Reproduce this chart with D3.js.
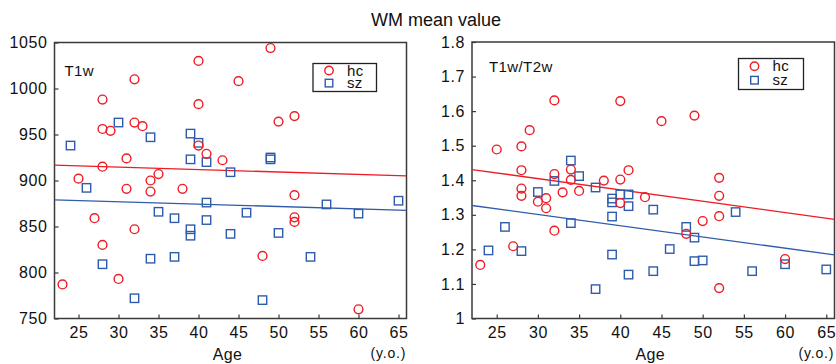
<!DOCTYPE html>
<html>
<head>
<meta charset="utf-8">
<script src="https://cdn.jsdelivr.net/npm/d3@7"></script>
<style>
  html, body { margin: 0; padding: 0; background: #fff; }
  svg { display: block; font-family: 'Liberation Sans', Arial, sans-serif; }
</style>
</head>
<body>
<svg id="chart" width="836" height="364"></svg>
<script>
// ages of subjects (same subjects in both panels)
const hcAges = [23, 25, 27, 28, 28, 28, 28, 29, 30, 31, 31, 32, 32, 32, 33, 34, 34, 35, 38, 40, 40, 40, 41, 43, 45, 48, 49, 50, 52, 52, 52, 52, 60];
const szAges = [24, 26, 28, 30, 32, 34, 34, 35, 37, 37, 39, 39, 39, 39, 40, 41, 41, 41, 44, 44, 46, 48, 49, 49, 50, 54, 56, 60, 65];

// T1w WM mean value
const hcT1w = [787, 902, 859, 988, 956, 915, 830, 954, 793, 924, 891, 1010, 963, 847, 959, 900, 888, 907, 891, 1030, 983, 938, 929, 922, 1008, 818, 1044, 964, 970, 884, 860, 855, 760];
const szT1w = [938, 892, 809, 963, 772, 947, 815, 866, 859, 817, 951, 923, 847, 840, 941, 920, 876, 857, 909, 842, 865, 770, 925, 923, 843, 817, 874, 864, 878];

// T1w/T2w WM mean value
const hcRatio = [1.155, 1.489, 1.209, 1.498, 1.429, 1.376, 1.355, 1.545, 1.338, 1.348, 1.319, 1.631, 1.418, 1.254, 1.365, 1.431, 1.401, 1.369, 1.399, 1.629, 1.402, 1.334, 1.429, 1.351, 1.571, 1.245, 1.587, 1.282, 1.407, 1.355, 1.296, 1.088, 1.172];
const szRatio = [1.197, 1.265, 1.195, 1.366, 1.398, 1.457, 1.276, 1.412, 1.379, 1.085, 1.347, 1.336, 1.295, 1.185, 1.359, 1.359, 1.325, 1.127, 1.315, 1.137, 1.201, 1.265, 1.234, 1.166, 1.168, 1.308, 1.137, 1.157, 1.142];

// regression lines, value at the two ends of the age axis
const fitAges = [22, 66];
const hcT1wFit = [916.7, 905.0];
const szT1wFit = [879.0, 867.6];
const hcRatioFit = [1.431, 1.287];
const szRatioFit = [1.327, 1.184];

const ageTicks = [25, 30, 35, 40, 45, 50, 55, 60, 65];
const t1wTicks = [750, 800, 850, 900, 950, 1000, 1050];
const ratioTicks = [1, 1.1, 1.2, 1.3, 1.4, 1.5, 1.6, 1.7, 1.8];

const RED = '#ee1c25';
const BLUE = '#2f5caa';
const FRAME = '#3a3a3a';

const svg = d3.select('#chart');

svg.append('text')
    .attr('x', 436)
    .attr('y', 25.5)
    .attr('text-anchor', 'middle')
    .attr('font-size', 18)
    .attr('fill', '#111')
    .text('WM mean value');

function drawPanel(p) {
    const x = d3.scaleLinear().domain([22, 66]).range([p.x0, p.x1]);
    const y = d3.scaleLinear().domain(p.yDomain).range([p.y1, p.y0]);

    const g = svg.append('g');

    // axes with inward ticks
    g.append('g')
        .attr('transform', `translate(0,${p.y1})`)
        .call(d3.axisBottom(x).tickValues(ageTicks).tickSize(-4).tickPadding(8).tickFormat(d3.format('d')))
        .call(a => a.select('.domain').remove())
        .call(a => a.selectAll('line').attr('stroke', FRAME).attr('stroke-width', 1.2))
        .call(a => a.selectAll('text').attr('font-size', 16).attr('fill', '#111')
            .attr('font-family', "'Liberation Sans', Arial, sans-serif").attr('letter-spacing', 0.6));

    g.append('g')
        .attr('transform', `translate(${p.x0},0)`)
        .call(d3.axisLeft(y).tickValues(p.yTicks).tickSize(-4).tickPadding(7).tickFormat(p.fmt))
        .call(a => a.select('.domain').remove())
        .call(a => a.selectAll('line').attr('stroke', FRAME).attr('stroke-width', 1.2))
        .call(a => a.selectAll('text').attr('font-size', 16).attr('fill', '#111')
            .attr('font-family', "'Liberation Sans', Arial, sans-serif").attr('letter-spacing', 0.6));

    // frame
    g.append('rect')
        .attr('x', p.x0).attr('y', p.y0)
        .attr('width', p.x1 - p.x0).attr('height', p.y1 - p.y0)
        .attr('fill', 'none')
        .attr('stroke', FRAME)
        .attr('stroke-width', 1.5);

    // regression lines
    const line = d3.line().x(d => x(d[0])).y(d => y(d[1]));
    g.append('path')
        .datum(d3.zip(fitAges, p.hcFit))
        .attr('d', line)
        .attr('fill', 'none').attr('stroke', RED).attr('stroke-width', 1.3);
    g.append('path')
        .datum(d3.zip(fitAges, p.szFit))
        .attr('d', line)
        .attr('fill', 'none').attr('stroke', BLUE).attr('stroke-width', 1.3);

    // sz squares
    g.append('g')
        .selectAll('rect')
        .data(d3.zip(szAges, p.sz))
        .join('rect')
            .attr('x', d => x(d[0]) - 4.2)
            .attr('y', d => y(d[1]) - 4.2)
            .attr('width', 8.4)
            .attr('height', 8.4)
            .attr('fill', 'none')
            .attr('stroke', BLUE)
            .attr('stroke-width', 1.4);

    // hc circles
    g.append('g')
        .selectAll('circle')
        .data(d3.zip(hcAges, p.hc))
        .join('circle')
            .attr('cx', d => x(d[0]))
            .attr('cy', d => y(d[1]))
            .attr('r', 4.4)
            .attr('fill', 'none')
            .attr('stroke', RED)
            .attr('stroke-width', 1.4);

    // panel label
    g.append('text')
        .attr('x', p.x0 + p.labelDx)
        .attr('y', p.labelY)
        .attr('font-size', 15)
        .attr('fill', '#111')
        .attr('letter-spacing', 0.4)
        .text(p.label);

    // legend
    const lg = g.append('g').attr('transform', `translate(${p.legX},${p.legY})`);
    lg.append('rect')
        .attr('width', p.legW).attr('height', p.legH)
        .attr('fill', '#fff').attr('stroke', '#222').attr('stroke-width', 1.3);
    lg.append('circle')
        .attr('cx', 16).attr('cy', p.legH * 0.25)
        .attr('r', 4.2).attr('fill', 'none').attr('stroke', RED).attr('stroke-width', 1.4);
    lg.append('rect')
        .attr('x', 16 - 3.8).attr('y', p.legH * 0.70 - 3.8)
        .attr('width', 7.6).attr('height', 7.6)
        .attr('fill', 'none').attr('stroke', BLUE).attr('stroke-width', 1.4);
    lg.append('text').attr('x', 34).attr('y', p.legH * 0.25 + 5)
        .attr('font-size', 15).attr('fill', '#111').attr('letter-spacing', 0.3).text('hc');
    lg.append('text').attr('x', 34).attr('y', p.legH * 0.70 + 5)
        .attr('font-size', 15).attr('fill', '#111').attr('letter-spacing', 0.3).text('sz');

    // axis titles
    g.append('text')
        .attr('x', (p.x0 + p.x1) / 2 - 3)
        .attr('y', 360)
        .attr('text-anchor', 'middle')
        .attr('font-size', 16)
        .attr('fill', '#111')
        .attr('letter-spacing', 0.4)
        .text('Age');
    g.append('text')
        .attr('x', p.x1 - 36)
        .attr('y', 358)
        .attr('font-size', 14)
        .attr('fill', '#111')
        .attr('letter-spacing', 0.8)
        .text('(y.o.)');
}

drawPanel({
    x0: 54.5, x1: 406.5, y0: 42.5, y1: 318.5,
    yDomain: [750, 1050], yTicks: t1wTicks, fmt: d3.format('d'),
    hc: hcT1w, sz: szT1w, hcFit: hcT1wFit, szFit: szT1wFit,
    label: 'T1w', labelDx: 10, labelY: 76,
    legX: 313, legY: 63.5, legW: 63.5, legH: 28
});

drawPanel({
    x0: 472, x1: 834.5, y0: 42, y1: 318.5,
    yDomain: [1, 1.8], yTicks: ratioTicks, fmt: d => d === 1 ? '1' : d3.format('.1f')(d),
    hc: hcRatio, sz: szRatio, hcFit: hcRatioFit, szFit: szRatioFit,
    label: 'T1w/T2w', labelDx: 17, labelY: 72,
    legX: 738.5, legY: 58.5, legW: 65, legH: 31
});
</script>
</body>
</html>
